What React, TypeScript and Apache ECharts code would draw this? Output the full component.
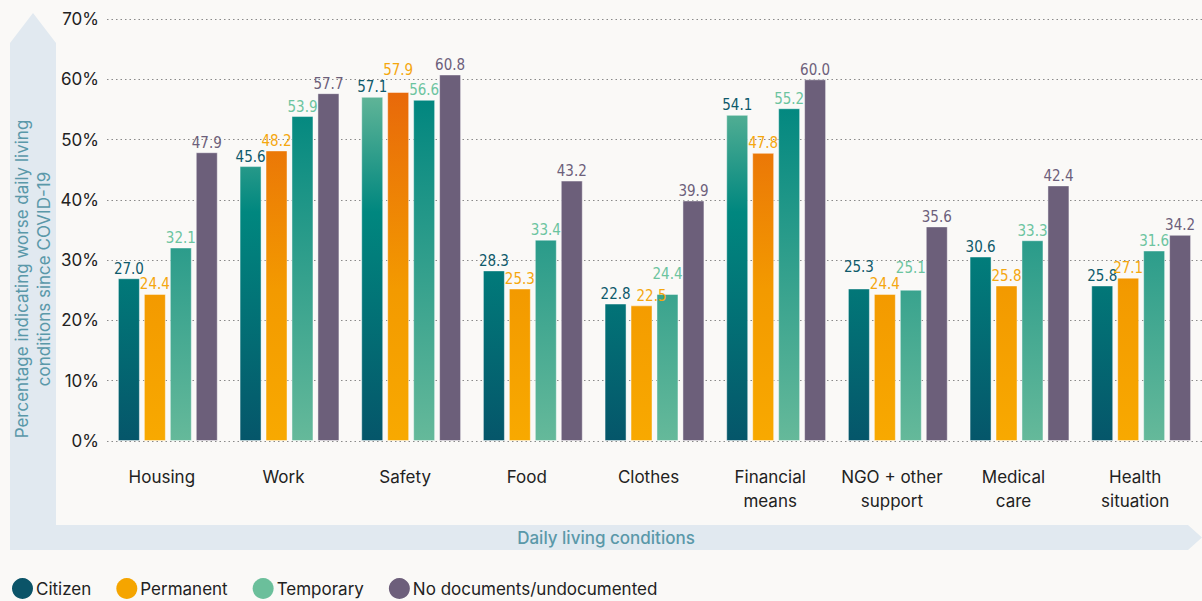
import React, { useEffect, useRef } from "react";
import * as echarts from "echarts";

const categories = [
  "Housing",
  "Work",
  "Safety",
  "Food",
  "Clothes",
  "Financial\nmeans",
  "NGO + other\nsupport",
  "Medical\ncare",
  "Health\nsituation",
];

const seriesNames = ["Citizen", "Permanent", "Temporary", "No documents/undocumented"];

const citizen = [27.0, 45.6, 57.1, 28.3, 22.8, 54.1, 25.3, 30.6, 25.8];
const permanent = [24.4, 48.2, 57.9, 25.3, 22.5, 47.8, 24.4, 25.8, 27.1];
const temporary = [32.1, 53.9, 56.6, 33.4, 24.4, 55.2, 25.1, 33.3, 31.6];
const undocumented = [47.9, 57.7, 60.8, 43.2, 39.9, 60.0, 35.6, 42.4, 34.2];

const yTicks = [0, 10, 20, 30, 40, 50, 60, 70];

// colour scales (value in %, colour)
const citizenScale: [number, string][] = [
  [0, "#05566a"],
  [38, "#00877f"],
  [58, "#63b698"],
];
const permanentScale: [number, string][] = [
  [0, "#f8a900"],
  [25, "#f39a00"],
  [58, "#e8690a"],
];
const temporaryScale: [number, string][] = [
  [0, "#65b99a"],
  [57, "#00867f"],
];
const undocumentedScale: [number, string][] = [
  [0, "#6c5f7a"],
  [70, "#6c5f7a"],
];

const legendColors = ["#0b5468", "#f5a500", "#6bbf9b", "#6d5f7b"];
const labelColors = ["#0e5a6b", "#f5a70e", "#6cc49f", "#6d5f7b"];

// label nudges (series-category) in pixels, as placed in the reference
const labelShifts: Record<string, [number, number]> = {
  "1-2": [0, -12],
  "1-4": [10, 0],
  "2-4": [0, -10],
  "0-6": [0, -12],
  "2-6": [0, -12],
};

function hexToRgb(h: string) {
  const n = parseInt(h.slice(1), 16);
  return [(n >> 16) & 255, (n >> 8) & 255, n & 255];
}
function rgbToHex(c: number[]) {
  return "#" + c.map((x) => Math.round(x).toString(16).padStart(2, "0")).join("");
}
function colorAt(scale: [number, string][], v: number) {
  if (v <= scale[0][0]) return scale[0][1];
  for (let i = 1; i < scale.length; i++) {
    if (v <= scale[i][0]) {
      const [v0, c0] = scale[i - 1];
      const [v1, c1] = scale[i];
      const t = (v - v0) / (v1 - v0);
      const a = hexToRgb(c0);
      const b = hexToRgb(c1);
      return rgbToHex(a.map((x, k) => x + (b[k] - x) * t));
    }
  }
  return scale[scale.length - 1][1];
}
function gradientFor(scale: [number, string][], v: number) {
  const stops: { offset: number; color: string }[] = [{ offset: 0, color: colorAt(scale, 0) }];
  scale.forEach(([s, c]) => {
    if (s > 0 && s < v) stops.push({ offset: s / v, color: c });
  });
  stops.push({ offset: 1, color: colorAt(scale, v) });
  return { type: "linear", x: 0, y: 1, x2: 0, y2: 0, colorStops: stops };
}

const allValues = [citizen, permanent, temporary, undocumented];
const allScales = [citizenScale, permanentScale, temporaryScale, undocumentedScale];

export default function App() {
  const ref = useRef<HTMLDivElement>(null);
  useEffect(() => {
    if (!ref.current) return;
    const chart = echarts.init(ref.current, null, { renderer: "svg" });
    const option: any = {
      animation: false,
      backgroundColor: "#faf9f7",
      graphic: [
        {
          type: "polygon",
          z: -10,
          shape: {
            points: [
              [10, 43],
              [33, 13],
              [56, 43],
              [56, 525],
              [1188, 525],
              [1202, 537.5],
              [1188, 550],
              [10, 550],
            ],
          },
          style: { fill: "#e1e9f0" },
        },
        {
          type: "text",
          x: 33,
          y: 279,
          rotation: Math.PI / 2,
          style: {
            text: "Percentage indicating worse daily living\nconditions since COVID-19",
            fill: "#5a98a9",
            fontSize: 17,
            lineHeight: 22,
            fontFamily: "Inter",
            align: "center",
            verticalAlign: "middle",
          },
        },
        {
          type: "text",
          x: 606,
          y: 537.5,
          style: {
            text: "Daily living conditions",
            fill: "#5a98a9",
            fontSize: 17,
            fontWeight: 500,
            fontFamily: "Inter",
            align: "center",
            verticalAlign: "middle",
          },
        },
      ],
      grid: { left: 107, top: 19, width: 1103, height: 422 },
      legend: {
        left: 12,
        top: 578,
        padding: 0,
        icon: "circle",
        itemWidth: 21,
        itemHeight: 21,
        itemGap: 25,
        textStyle: { fontSize: 17, color: "#222", fontFamily: "Inter", padding: [0, 0, 0, -2] },
        data: seriesNames.map((n, i) => ({ name: n, itemStyle: { color: legendColors[i] } })),
      },
      xAxis: {
        type: "category",
        data: categories,
        axisLine: { show: false },
        axisTick: { show: false },
        axisLabel: {
          fontSize: 17,
          lineHeight: 24,
          color: "#222",
          fontFamily: "Inter",
          margin: 24,
          padding: [0, 12, 0, 0],
          interval: 0,
        },
      },
      yAxis: {
        type: "value",
        min: yTicks[0],
        max: yTicks[yTicks.length - 1],
        interval: 10,
        axisLine: { show: false },
        axisTick: { show: false },
        axisLabel: {
          formatter: "{value}%",
          fontSize: 17,
          color: "#222",
          fontFamily: "Inter",
          margin: 8,
        },
        splitLine: {
          lineStyle: { color: "#8a8a8a", width: 1.2, type: [1.5, 3] },
        },
      },
      series: allValues.map((vals, i) => ({
        name: seriesNames[i],
        type: "bar",
        barWidth: 22,
        barGap: "18%",
        itemStyle: { color: legendColors[i] },
        data: vals.map((v, j) => {
          const shift = labelShifts[`${i}-${j}`];
          return {
            value: v,
            itemStyle: {
              color: gradientFor(allScales[i], v),
              borderColor: "rgba(255,255,255,0.45)",
              borderWidth: 1,
            },
            ...(shift ? { label: { offset: shift } } : {}),
          };
        }),
        label: {
          show: true,
          position: "top",
          distance: 2,
          color: labelColors[i],
          fontSize: 15,
          fontFamily: "DejaVu Sans Condensed, sans-serif",
          formatter: (p: any) => Number(p.value).toFixed(1),
        },
      })),
    };
    chart.setOption(option);
    return () => chart.dispose();
  }, []);
  return (
    <div
      ref={ref}
      style={{ position: "absolute", left: 0, top: 0, width: 1202, height: 601 }}
    />
  );
}
